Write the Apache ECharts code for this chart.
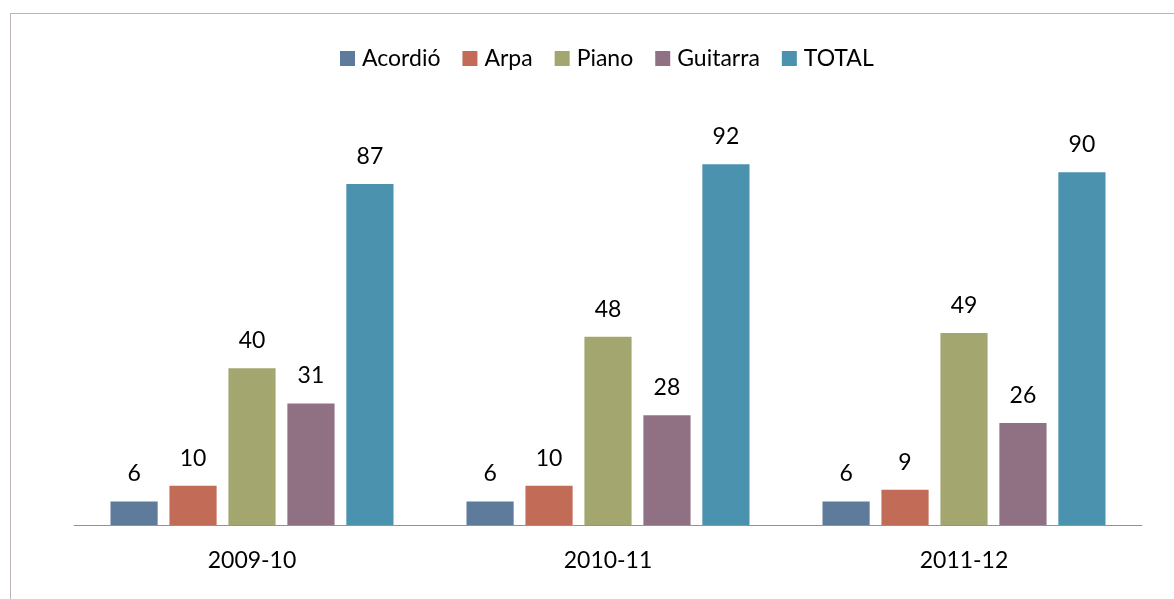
<!DOCTYPE html>
<html>
<head>
<meta charset="utf-8">
<script src="https://cdn.jsdelivr.net/npm/echarts@6/dist/echarts.min.js"></script>
<style>
html,body{margin:0;padding:0;background:#fff;}
#wrap{position:relative;width:1174px;height:599px;overflow:hidden;}
#frame{position:absolute;left:10px;top:13px;width:1200px;height:640px;border:1px solid #bdb3b8;box-sizing:border-box;}
#chart{position:absolute;left:0;top:0;width:1174px;height:599px;}
</style>
</head>
<body>
<div id="wrap"><div id="frame"></div><div id="chart"></div></div>
<script>
const categories = ['2009-10', '2010-11', '2011-12'];
const seriesNames = ['Acordió', 'Arpa', 'Piano', 'Guitarra', 'TOTAL'];
const acordio = [6, 6, 6];
const arpa = [10, 10, 9];
const piano = [40, 48, 49];
const guitarra = [31, 28, 26];
const total = [87, 92, 90];
const colors = ['#5f7b9c', '#c26b57', '#a3a66f', '#907184', '#4b92ae'];

const values = [acordio, arpa, piano, guitarra, total];
const font = 'Lato, "Open Sans", sans-serif';
const chart = echarts.init(document.getElementById('chart'), null, {renderer: 'canvas'});
chart.setOption({
  animation: false,
  color: colors,
  legend: {
    top: 42,
    left: 335,
    itemWidth: 15,
    itemHeight: 15,
    itemGap: 22,
    icon: 'rect',
    textStyle: {fontFamily: font, fontSize: 23, color: '#000', padding: [0, 0, 0, 2]},
    data: seriesNames
  },
  grid: {left: 74, right: 32, top: 133, bottom: 74, containLabel: false},
  xAxis: {
    type: 'category',
    data: categories,
    axisLine: {lineStyle: {color: '#9e8f8f', width: 1}},
    axisTick: {show: false},
    axisLabel: {fontFamily: font, fontSize: 23, color: '#000', margin: 24}
  },
  yAxis: {
    type: 'value', min: 0, max: 100, interval: 10,
    show: false, splitLine: {show: false}
  },
  series: seriesNames.map((n, i) => ({
    name: n,
    type: 'bar',
    data: values[i],
    barGap: '25%',
    barCategoryGap: '20.5%',
    label: {show: true, position: 'top', distance: 16, fontFamily: font, fontSize: 23, color: '#000'}
  }))
});
</script>
</body>
</html>
